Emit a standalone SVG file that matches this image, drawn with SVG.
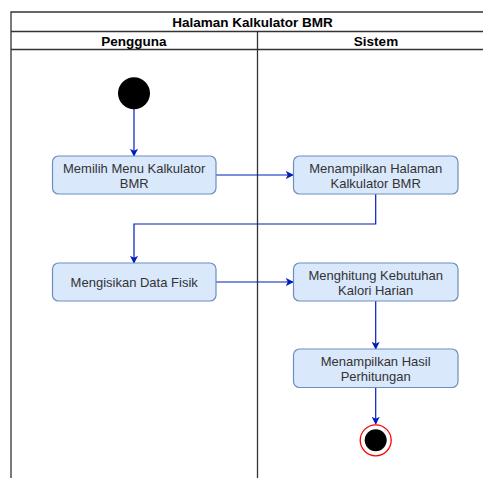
<svg xmlns="http://www.w3.org/2000/svg" width="483" height="478" viewBox="0 0 483 478">
  <style>
    .lane { fill: none; stroke: #333333; stroke-width: 1.3; }
    .head { font-family: "Liberation Sans", Arial, sans-serif; font-size: 13.5px; font-weight: bold; fill: #000000; text-anchor: middle; }
    .act rect { fill: #dae8fc; stroke: #6c8ebf; stroke-width: 1.2; }
    .act text { font-family: "Liberation Sans", Arial, sans-serif; font-size: 13px; fill: #333333; text-anchor: middle; }
    .flow { fill: none; stroke: #001dbc; stroke-width: 1.2; marker-end: url(#arrow); }
  </style>
  <defs>
    <marker id="arrow" viewBox="0 0 10 10" refX="9" refY="5" markerWidth="8" markerHeight="8" markerUnits="userSpaceOnUse" orient="auto">
      <path d="M0,0 L10,5 L0,10 L2.5,5 Z" fill="#001dbc"/>
    </marker>
  </defs>
  <rect width="483" height="478" fill="#ffffff"/>

  <!-- swimlane frame -->
  <g id="pool">
    <path class="lane" d="M11,478 V12 H490"/>
    <path class="lane" d="M11,31.5 H490"/>
    <path class="lane" d="M11,49.5 H490"/>
    <path class="lane" d="M257.5,31.5 V478"/>
    <text class="head" x="252.5" y="26.5">Halaman Kalkulator BMR</text>
    <text class="head" x="134" y="45.5">Pengguna</text>
    <text class="head" x="376" y="45.5">Sistem</text>
  </g>

  <!-- connectors -->
  <g id="connectors">
    <path class="flow" d="M134,109 V156"/>
    <path class="flow" d="M216,175 H293"/>
    <path class="flow" d="M375.7,194 V224 H134 V263"/>
    <path class="flow" d="M216,282 H293"/>
    <path class="flow" d="M375.7,301 V349"/>
    <path class="flow" d="M375.7,387.5 V424"/>
  </g>

  <g id="start">
    <circle cx="134" cy="93.3" r="16" fill="#000000"/>
  </g>

  <g id="memilih-menu" class="act">
    <rect x="52.5" y="156" width="163.5" height="38" rx="6"/>
    <text x="134.2" y="172.5">Memilih Menu Kalkulator</text>
    <text x="134.2" y="187.5">BMR</text>
  </g>

  <g id="tampil-halaman" class="act">
    <rect x="293.5" y="156" width="164.5" height="38" rx="6"/>
    <text x="375.7" y="172.5">Menampilkan Halaman</text>
    <text x="375.7" y="187.5">Kalkulator BMR</text>
  </g>

  <g id="isi-data" class="act">
    <rect x="52.5" y="263" width="163.5" height="38" rx="6"/>
    <text x="134.2" y="286.5">Mengisikan Data Fisik</text>
  </g>

  <g id="hitung-kalori" class="act">
    <rect x="293.5" y="263" width="164.5" height="38" rx="6"/>
    <text x="375.7" y="279.5">Menghitung Kebutuhan</text>
    <text x="375.7" y="294.5">Kalori Harian</text>
  </g>

  <g id="tampil-hasil" class="act">
    <rect x="293.5" y="349" width="164.5" height="38.5" rx="6"/>
    <text x="375.7" y="365.5">Menampilkan Hasil</text>
    <text x="375.7" y="380.5">Perhitungan</text>
  </g>

  <g id="end">
    <circle cx="375.7" cy="440.3" r="15.5" fill="#ffffff" stroke="#ff0000" stroke-width="1.3"/>
    <circle cx="375.7" cy="440.3" r="11" fill="#000000"/>
  </g>
</svg>
